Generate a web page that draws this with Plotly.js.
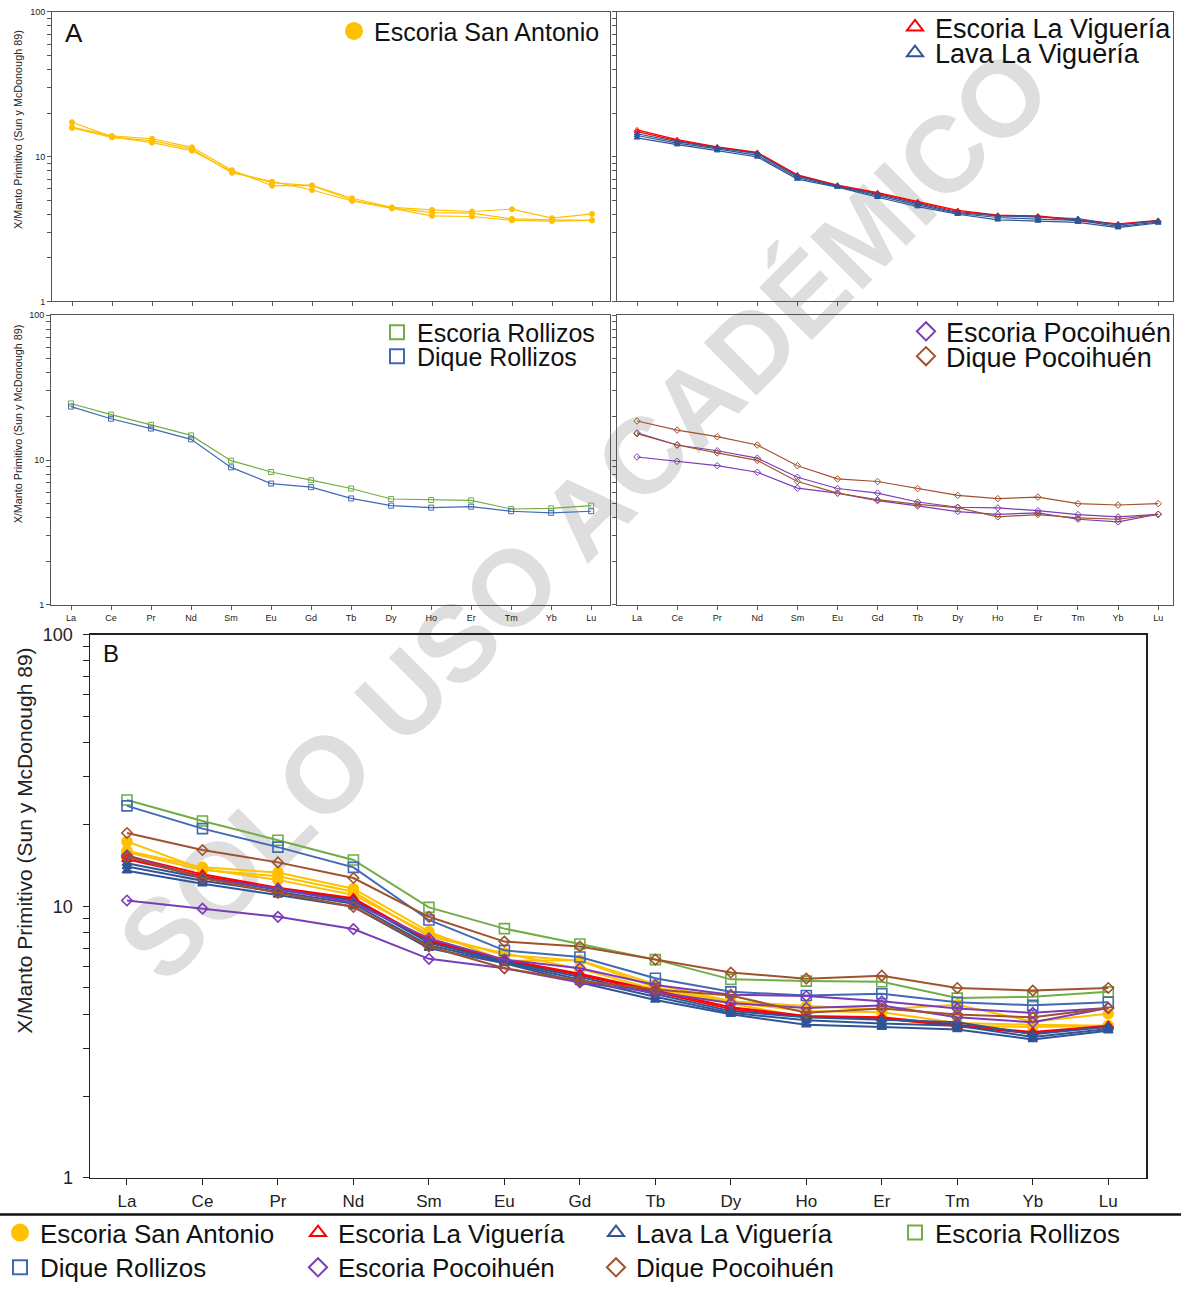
<!DOCTYPE html>
<html><head><meta charset="utf-8">
<script src="https://cdn.plot.ly/plotly-3.0.1.min.js"></script>
<style>
html,body{margin:0;padding:0;background:#fff;width:1181px;height:1291px;overflow:hidden}
#chart{position:absolute;left:0;top:0;width:1181px;height:1291px}
</style>
</head><body><div id="chart"></div>
<script>
// ---------- data ----------
const elements = ['La','Ce','Pr','Nd','Sm','Eu','Gd','Tb','Dy','Ho','Er','Tm','Yb','Lu'];

const sanAntonio1 = [17.3, 13.7, 12.5, 11.0, 7.90, 6.61, 6.30, 5.02, 4.43, 4.11, 4.07, 3.72, 3.66, 3.63];
const sanAntonio2 = [16.0, 13.9, 13.3, 11.6, 8.06, 6.30, 6.33, 5.16, 4.47, 4.29, 4.18, 4.34, 3.76, 4.02];
const sanAntonio3 = [15.8, 13.6, 12.9, 11.3, 7.73, 6.71, 5.88, 4.94, 4.38, 3.90, 3.86, 3.63, 3.59, 3.63];

const escoriaViguería1 = [15.3, 13.1, 11.7, 10.7, 7.49, 6.36, 5.64, 4.89, 4.25, 3.94, 3.90, 3.66, 3.44, 3.63];
const escoriaViguería2 = [14.9, 12.9, 11.6, 10.6, 7.40, 6.30, 5.58, 4.82, 4.18, 3.92, 3.86, 3.62, 3.40, 3.60];

const lavaViguería1 = [14.4, 12.7, 11.5, 10.5, 7.33, 6.26, 5.49, 4.76, 4.11, 3.90, 3.82, 3.74, 3.38, 3.60];
const lavaViguería2 = [14.0, 12.4, 11.3, 10.2, 7.18, 6.20, 5.35, 4.64, 4.05, 3.80, 3.70, 3.63, 3.30, 3.53];
const lavaViguería3 = [13.5, 12.1, 11.0, 9.95, 7.00, 6.16, 5.24, 4.52, 4.00, 3.66, 3.59, 3.52, 3.23, 3.48];

const escoriaRollizos = [24.6, 20.6, 17.5, 14.8, 9.90, 8.27, 7.26, 6.36, 5.38, 5.30, 5.27, 4.59, 4.64, 4.84];
const diqueRollizos   = [23.4, 19.3, 16.5, 13.9, 8.90, 6.88, 6.50, 5.43, 4.84, 4.69, 4.76, 4.43, 4.32, 4.43];

const escoriaPocoihuen1 = [15.4, 12.7, 11.6, 10.3, 7.61, 6.36, 5.91, 5.13, 4.72, 4.67, 4.47, 4.20, 4.05, 4.22];
const escoriaPocoihuen2 = [10.5, 9.80, 9.14, 8.24, 6.40, 5.91, 5.24, 4.82, 4.40, 4.22, 4.31, 3.90, 3.74, 4.22];
const diquePocoihuen1   = [18.6, 16.1, 14.5, 12.7, 9.14, 7.41, 7.11, 6.36, 5.70, 5.41, 5.55, 5.00, 4.89, 5.00];
const diquePocoihuen2   = [15.2, 12.7, 11.2, 9.95, 7.11, 5.91, 5.32, 4.94, 4.69, 4.05, 4.20, 3.99, 3.90, 4.22];

const groupNames = ['Escoria San Antonio','Escoria La Viguería','Lava La Viguería','Escoria Rollizos','Dique Rollizos','Escoria Pocoihuén','Dique Pocoihuén'];
const yTickVals = [1,2,3,4,5,6,7,8,9,10,20,30,40,50,60,70,80,90,100];
const yTickText = ['1','','','','','','','','','10','','','','','','','','','100'];
const yTitle = 'X/Manto Primitivo (Sun y McDonough 89)';
const watermark = 'SOLO USO ACADÉMICO';

// ---------- styles ----------
const W = 1181, H = 1291;
const px = x => x / W, py = y => 1 - y / H;
const FONT = 'Liberation Sans, Arial, sans-serif';

const groups = [
  {samples:[sanAntonio1, sanAntonio2, sanAntonio3], color:'#FFC000', symbol:'circle', plotSymbol:'circle', big:10, panel:1, leg:[374,31,25], bot:[40,1243]},
  {samples:[escoriaViguería1, escoriaViguería2], color:'#FF0000', symbol:'triangle-up-open', plotSymbol:'triangle-up-open', big:9, panel:2, leg:[935,27,27], bot:[338,1243]},
  {samples:[lavaViguería1, lavaViguería2, lavaViguería3], color:'#2F5597', symbol:'triangle-up-open', plotSymbol:'triangle-up', big:8, panel:2, leg:[935,53,27], bot:[636,1243]},
  {samples:[escoriaRollizos], color:'#70AD47', symbol:'square-open', plotSymbol:'square-open', big:10, panel:3, leg:[417,335,25], bot:[935,1243]},
  {samples:[diqueRollizos], color:'#4169B5', symbol:'square-open', plotSymbol:'square-open', big:10, panel:3, leg:[417,359,25], bot:[40,1278]},
  {samples:[escoriaPocoihuen1, escoriaPocoihuen2], color:'#7A3DB8', symbol:'diamond-open', plotSymbol:'diamond-open', big:8, panel:4, leg:[946,334,27], bot:[338,1278]},
  {samples:[diquePocoihuen1, diquePocoihuen2], color:'#A0522D', symbol:'diamond-open', plotSymbol:'diamond-open', big:8, panel:4, leg:[946,359,27], bot:[636,1278]}
];

const traces = [];
groups.forEach(g => g.samples.forEach(s => traces.push({
  type:'scatter', mode:'lines+markers', x:elements, y:s,
  xaxis:'x'+g.panel, yaxis:'y'+g.panel, showlegend:false, hoverinfo:'skip',
  line:{color:g.color, width:1.2},
  marker:{symbol:g.plotSymbol, size:5, color:g.color, line:{color:g.color, width:1}}
})));
groups.forEach(g => g.samples.forEach(s => traces.push({
  type:'scatter', mode:'lines+markers', x:elements, y:s,
  xaxis:'x5', yaxis:'y5', showlegend:false, hoverinfo:'skip',
  line:{color:g.color, width:2},
  marker:{symbol:g.plotSymbol, size:g.big, color:g.color, line:{color:g.color, width:1.6}}
})));

const layout = {
  width:W, height:H, margin:{l:0,r:0,t:0,b:0},
  paper_bgcolor:'#ffffff', plot_bgcolor:'rgba(0,0,0,0)',
  font:{family:FONT, color:'#222'},
  annotations:[
    {text:'A', xref:'paper', yref:'paper', x:px(74), y:py(33), xanchor:'center', yanchor:'middle', showarrow:false, font:{size:26, color:'#111', family:FONT}},
    {text:'B', xref:'paper', yref:'paper', x:px(111), y:py(659), xanchor:'center', yanchor:'middle', showarrow:false, font:{size:24, color:'#111', family:FONT}},
    {text:yTitle, xref:'paper', yref:'paper', x:px(18), y:py(131), textangle:-90, xanchor:'center', yanchor:'middle', showarrow:false, font:{size:10.8, color:'#222', family:FONT}},
    {text:yTitle, xref:'paper', yref:'paper', x:px(18), y:py(428), textangle:-90, xanchor:'center', yanchor:'middle', showarrow:false, font:{size:10.8, color:'#222', family:FONT}},
    {text:yTitle, xref:'paper', yref:'paper', x:px(25), y:py(848), textangle:-90, xanchor:'center', yanchor:'middle', showarrow:false, font:{size:21, color:'#222', family:FONT}}
  ],
  shapes:[
    {type:'rect', xref:'paper', yref:'paper', x0:px(377), x1:px(777), y0:py(712), y1:py(312), layer:'below',
     line:{width:0}, fillcolor:'rgba(0,0,0,0)',
     label:{text:watermark, textangle:-45, textposition:'middle center', font:{size:108, color:'#dedede', family:FONT, weight:'bold'}}},
    {type:'line', xref:'paper', yref:'paper', x0:0, x1:1, y0:py(1225), y1:py(1225), line:{color:'#111', width:2.5}, layer:'above'}
  ]
};

function legendAt(tx, cy, size) {
  const h = size * 1.3 + 3;
  const top = cy - h / 2 - 5;
  return {x:px(tx - 40), y:py(top), xanchor:'left', yanchor:'top', bgcolor:'rgba(0,0,0,0)', borderwidth:0,
          font:{size:size, family:FONT, color:'#111'}, itemsizing:'trace'};
}

groups.forEach((g, i) => {
  const lid = i === 0 ? 'legend' : 'legend' + (i + 1);
  const bid = 'legend' + (i + 8);
  layout[lid] = legendAt(g.leg[0], g.leg[1], g.leg[2]);
  layout[bid] = legendAt(g.bot[0], g.bot[1], 26);
  const mk = {symbol:g.symbol, size:g.symbol === 'circle' ? 16 : 14, color:g.color, line:{color:g.color, width:2}};
  traces.push({type:'scatter', mode:'markers', x:[null], y:[null], name:groupNames[i], xaxis:'x'+g.panel, yaxis:'y'+g.panel, legend:lid, showlegend:true, marker:mk, hoverinfo:'skip'});
  traces.push({type:'scatter', mode:'markers', x:[null], y:[null], name:groupNames[i], xaxis:'x5', yaxis:'y5', legend:bid, showlegend:true, marker:mk, hoverinfo:'skip'});
});

function xAx(x0, x1, r0, r1, anchor, labels, big) {
  return {domain:[px(x0), px(x1)], anchor:anchor, type:'category', range:[r0, r1],
    showline:true, mirror:true, linecolor: big ? '#222' : '#555', linewidth: big ? 1.5 : 1,
    ticks:'outside', ticklen: big ? 6 : 4, tickcolor: big ? '#222' : '#555', tickwidth:1,
    showticklabels:labels, tickfont:{size: big ? 17 : 9, color:'#222', family:FONT},
    ticklabelstandoff: big ? 1 : 0,
    showgrid:false, zeroline:false, fixedrange:true};
}
function yAx(y0, y1, anchor, labels, big) {
  return {domain:[py(y1), py(y0)], anchor:anchor, type:'log', range:[0, 2],
    showline:true, mirror:true, linecolor: big ? '#222' : '#555', linewidth: big ? 1.5 : 1,
    ticks:'outside', ticklen: big ? 6 : 4, tickcolor: big ? '#222' : '#555', tickwidth:1,
    tickvals:yTickVals, ticktext:yTickText, showticklabels:labels,
    tickfont:{size: big ? 18 : 9, color:'#222', family:FONT},
    ticklabelstandoff: big ? 6 : 0,
    showgrid:false, zeroline:false, fixedrange:true};
}

layout.xaxis  = xAx(52, 610, -0.5, 13.45, 'y', false, false);
layout.yaxis  = yAx(12, 304, 'x', true, false);
layout.xaxis2 = xAx(617, 1173, -0.5, 13.37, 'y2', false, false);
layout.yaxis2 = yAx(12, 304, 'x2', false, false);
layout.xaxis3 = xAx(51, 610, -0.5, 13.47, 'y3', true, false);
layout.yaxis3 = yAx(318, 610, 'x3', true, false);
layout.xaxis4 = xAx(617, 1173, -0.5, 13.37, 'y4', true, false);
layout.yaxis4 = yAx(318, 610, 'x4', false, false);
layout.xaxis5 = xAx(90, 1146, -0.49, 13.5, 'y5', true, true);
layout.yaxis5 = yAx(640, 1188, 'x5', true, true);

Plotly.newPlot('chart', traces, layout, {displayModeBar:false, staticPlot:true});
</script></body></html>
